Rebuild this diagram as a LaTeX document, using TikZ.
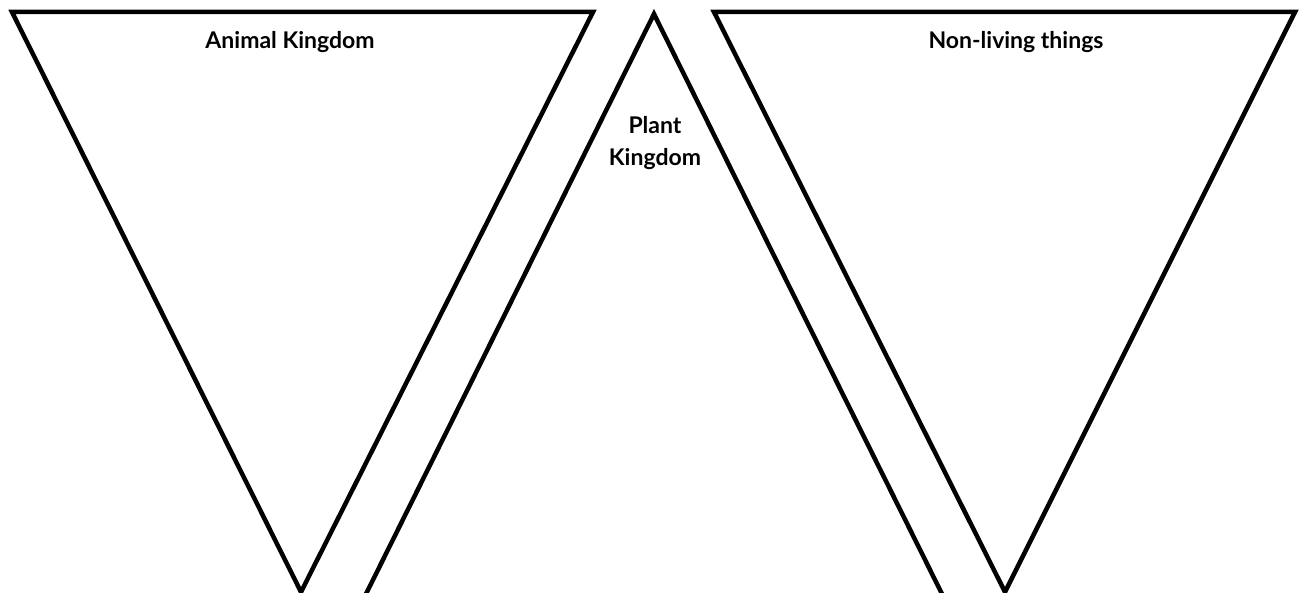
\documentclass[tikz,border=0pt]{standalone}
\usepackage{fontspec}
\setmainfont{Lato}
\begin{document}
\begin{tikzpicture}[x=1pt,y=-1pt,
  tri/.style={line width=4.5pt,line join=miter},
  lbl/.style={font=\bfseries\fontsize{23}{32}\selectfont,align=center,inner sep=0pt}]
\useasboundingbox (0,0) rectangle (1304,593);
\clip (0,0) rectangle (1304,593);
\draw[tri] (12,12) -- (593,12) -- (301,592) -- cycle;
\draw[tri] (363,600) -- (654,14) -- (945,600);
\draw[tri] (714,12) -- (1295,12) -- (1005,592) -- cycle;
\node[lbl] (animal) at (290,42) {Animal Kingdom};
\node[lbl] (plant) at (655,143) {Plant\\Kingdom};
\node[lbl] (nonliving) at (1016,42) {Non-living things};
\end{tikzpicture}
\end{document}
